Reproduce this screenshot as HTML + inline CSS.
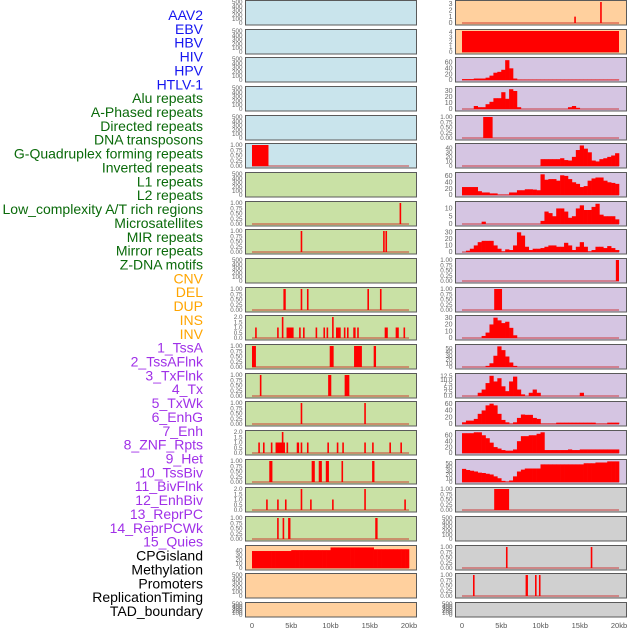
<!DOCTYPE html>
<html><head><meta charset="utf-8">
<style>
html,body{margin:0;padding:0;background:#fff;}
body{width:630px;height:630px;overflow:hidden;position:relative;font-family:"Liberation Sans",sans-serif;}
svg{position:absolute;left:0;top:0;}
</style></head>
<body>
<svg id="chart" width="630" height="630" viewBox="0 0 630 630" xmlns="http://www.w3.org/2000/svg"></svg>
<script>
// ---- labels ----
const trackLabels = ["AAV2","EBV","HBV","HIV","HPV","HTLV-1","Alu repeats","A-Phased repeats","Directed repeats","DNA transposons","G-Quadruplex forming repeats","Inverted repeats","L1 repeats","L2 repeats","Low_complexity A/T rich regions","Microsatellites","MIR repeats","Mirror repeats","Z-DNA motifs","CNV","DEL","DUP","INS","INV","1_TssA","2_TssAFlnk","3_TxFlnk","4_Tx","5_TxWk","6_EnhG","7_Enh","8_ZNF_Rpts","9_Het","10_TssBiv","11_BivFlnk","12_EnhBiv","13_ReprPC","14_ReprPCWk","15_Quies","CPGisland","Methylation","Promoters","ReplicationTiming","TAD_boundary"];
const labelGroups = ["virus","virus","virus","virus","virus","virus","repeat","repeat","repeat","repeat","repeat","repeat","repeat","repeat","repeat","repeat","repeat","repeat","repeat","sv","sv","sv","sv","sv","chrom","chrom","chrom","chrom","chrom","chrom","chrom","chrom","chrom","chrom","chrom","chrom","chrom","chrom","chrom","other","other","other","other","other"];
const xTickKb = [0,5,10,15,20];
const xTickLabels = ["0","5kb","10kb","15kb","20kb"];

// ---- right column histogram data (40 bins of 0.5kb) ----
const hbvBins = [3,3,3,5,5,5,8,15,25,28,35,68,40,5,1,1,1,1,1,1,1,1,1,1,1,1,1,1,1,1,1,1,1,1,1,1,1,1,1,1];
const hivBins = [0,0,0,5,3,3,8,12,18,18,28,17,33,30,3,0,0,0,0,0,0,0,0,0,0,0,0,3,5,2,0,0,0,0,0,0,0,0,0,0];
const htlvBins = [0,0,0,0,0,0,0,0,0,0,0,0,0,0,0,0,0,0,0,0,15,15,15,15,15,17,13,12,20,35,45,38,30,12,10,15,17,20,23,28];
const aluBins = [25,25,25,25,12,8,8,5,5,1,1,1,8,8,15,15,18,18,17,15,65,48,50,50,45,62,60,50,40,35,25,28,45,52,55,55,45,40,38,35];
const r7Bins = [0,0,0,0,0,1.5,0,0,0,0,0,0,0,0,0,0,0,0,0,0,2,8,7,5,10,10,8,4,5,10,12,9,9,11,13,6,5,5,5,3];
const r8Bins = [0,2,5,10,15,17,17,17,10,5,1,4,3,10,30,25,8,3,5,5,6,8,10,10,8,8,14,10,3,8,15,8,1,3,8,8,6,9,6,3];
const r11Bins = [0,0,0,0,0,3,8,20,30,26,22,24,15,4,0,0,0,0,0,0,0,0,0,0,0,0,0,0,0,0,0,0,0,0,0,0,0,0,0,0];
const r12Bins = [0,0,0,0,0,0,3,10,30,55,45,28,12,3,0,0,0,0,0,0,0,0,0,0,0,0,0,0,0,0,0,0,0,0,0,0,0,0,0,0];
const r13Bins = [0,0,0,0,2,4,8,12.5,9,11,6,3,9,12,4,1,0,2,4,2,0,0,0,0,0,0,0,0,0,0,2,0,0,0,0,0,0,0,0,0];
const r14Bins = [5,10,10,15,30,40,55,60,55,30,12,5,1,5,18,28,27,27,18,15,1,1,1,1,4,4,4,4,4,4,4,4,4,4,1,1,1,4,4,4];
const r15Bins = [67,67,67,70,70,60,50,35,20,15,10,8,8,12,40,57,57,60,60,65,70,10,10,10,10,10,10,12,10,10,12,12,12,12,12,12,12,12,12,12];
const r16Bins = [35,32,30,28,25,24,22,20,15,10,3,1,4,15,28,33,36,36,36,36,47,47,47,47,47,47,47,47,47,47,47,50,50,50,52,52,52,55,55,55];
// ---- left column histogram ----
const cpgBins = [38,38,38,38,38,38,38,38,38,38,40,40,40,40,40,40,40,40,40,40,46,46,46,46,46,46,46,46,46,46,46,42,42,42,42,42,42,42,42,42];

// ---- spike data: [startKb, endKb, height] ----
const aav2Spikes = [[14.3,14.5,1],[17.6,17.8,3.3]];
const ebvSpikes = [[0,20,4.2]];
const hpvSpikes = [[2.7,3.9,1]];
const r9Spikes = [[19.6,20,1]];
const r10Spikes = [[4.1,5.1,1]];
const r17Spikes = [[4.1,6.0,1]];
const r19Spikes = [[5.6,5.8,1],[16.4,16.6,1]];
const r20Spikes = [[1.4,1.6,1],[8.1,8.4,1],[9.3,9.5,1],[9.8,10.0,1]];
const l5Spikes = [[0,2.1,1]];
const l7Spikes = [[18.8,19.0,1]];
const l8Spikes = [[6.2,6.4,1],[16.7,16.9,1],[17.0,17.2,1]];
const l10Spikes = [[4.0,4.3,1],[6.2,6.4,1],[7.0,7.2,1],[14.7,14.9,1],[16.3,16.5,1]];
const l11Spikes = [[0.4,0.6,1],[3.2,3.4,1],[3.8,4.0,2],[4.4,5.3,1],[6.0,6.2,1],[6.5,6.7,1],[8.1,8.3,1],[9.1,9.3,1],[9.5,9.7,1],[10.2,10.4,2],[10.7,11.3,1],[11.7,11.9,1],[12.1,12.3,1],[12.9,13.2,1],[13.4,13.6,1],[16.9,17.3,1],[18.3,18.7,1],[19.3,19.5,1]];
const l12Spikes = [[0,0.5,1],[9.9,10.4,1],[13.0,14.0,1],[15.5,15.8,1]];
const l13Spikes = [[1.0,1.2,1],[9.7,10.1,1],[11.8,12.4,1]];
const l14Spikes = [[6.2,6.4,1],[14.3,14.5,1]];
const l15Spikes = [[0.8,1.0,1],[1.4,1.6,1],[2.4,2.6,1],[3.0,4.2,1],[3.8,4.0,2],[4.4,4.6,1],[5.7,6.0,1],[6.2,6.4,1],[7.0,7.2,1],[9.6,9.8,1],[10.8,11.0,1],[11.5,11.7,1],[14.3,14.5,1],[15.3,15.5,1],[17.5,17.7,1],[18.9,19.1,1]];
const l16Spikes = [[2.2,2.6,1],[7.6,8.0,1],[8.5,8.9,1],[9.4,9.8,1],[11.4,11.6,1],[15.3,15.6,1]];
const l17Spikes = [[1.8,2.0,1],[3.2,3.4,1],[4.2,4.4,1],[6.2,6.4,2],[7.4,7.6,1],[10.2,10.4,1],[14.3,14.5,2],[19.4,19.6,1]];
const l18Spikes = [[3.2,3.4,1],[3.9,4.1,1],[4.6,4.9,1],[15.7,16.0,1]];

// ---- y tick sets ----
const ticksEmpty = [0,100,200,300,400,500];
const ticksUnit = [0,0.25,0.5,0.75,1];
const ticksTwo = [0,0.5,1,1.5,2];

const leftPanels = [
 {bg:"#c9e4ec",ticks:ticksEmpty,ymax:500},
 {bg:"#c9e4ec",ticks:ticksEmpty,ymax:500},
 {bg:"#c9e4ec",ticks:ticksEmpty,ymax:500},
 {bg:"#c9e4ec",ticks:ticksEmpty,ymax:500},
 {bg:"#c9e4ec",ticks:ticksEmpty,ymax:500},
 {bg:"#c9e4ec",ticks:ticksUnit,ymax:1,spikes:l5Spikes},
 {bg:"#c9e1a5",ticks:ticksEmpty,ymax:500},
 {bg:"#c9e1a5",ticks:ticksUnit,ymax:1,spikes:l7Spikes},
 {bg:"#c9e1a5",ticks:ticksUnit,ymax:1,spikes:l8Spikes},
 {bg:"#c9e1a5",ticks:ticksEmpty,ymax:500},
 {bg:"#c9e1a5",ticks:ticksUnit,ymax:1,spikes:l10Spikes},
 {bg:"#c9e1a5",ticks:ticksTwo,ymax:2,spikes:l11Spikes},
 {bg:"#c9e1a5",ticks:ticksUnit,ymax:1,spikes:l12Spikes},
 {bg:"#c9e1a5",ticks:ticksUnit,ymax:1,spikes:l13Spikes},
 {bg:"#c9e1a5",ticks:ticksUnit,ymax:1,spikes:l14Spikes},
 {bg:"#c9e1a5",ticks:ticksTwo,ymax:2,spikes:l15Spikes},
 {bg:"#c9e1a5",ticks:ticksUnit,ymax:1,spikes:l16Spikes},
 {bg:"#c9e1a5",ticks:ticksTwo,ymax:2,spikes:l17Spikes},
 {bg:"#c9e1a5",ticks:ticksUnit,ymax:1,spikes:l18Spikes},
 {bg:"#ffd09e",ticks:[0,10,20,30,40],ymax:47,bins:cpgBins},
 {bg:"#ffd09e",ticks:ticksEmpty,ymax:500},
 {bg:"#ffd09e",ticks:ticksEmpty,ymax:500}
];
const rightPanels = [
 {bg:"#ffd09e",ticks:[0,1,2,3],ymax:3.3,spikes:aav2Spikes},
 {bg:"#ffd09e",ticks:[0,1,2,3,4],ymax:4.2,spikes:ebvSpikes},
 {bg:"#d5c5e2",ticks:[0,20,40,60],ymax:72,bins:hbvBins},
 {bg:"#d5c5e2",ticks:[0,10,20,30],ymax:35,bins:hivBins},
 {bg:"#d5c5e2",ticks:ticksUnit,ymax:1,spikes:hpvSpikes},
 {bg:"#d5c5e2",ticks:[0,10,20,30,40],ymax:46,bins:htlvBins},
 {bg:"#d5c5e2",ticks:[0,20,40,60],ymax:66,bins:aluBins},
 {bg:"#d5c5e2",ticks:[0,5,10],ymax:13.5,bins:r7Bins},
 {bg:"#d5c5e2",ticks:[0,10,20,30],ymax:32,bins:r8Bins},
 {bg:"#d5c5e2",ticks:ticksUnit,ymax:1,spikes:r9Spikes},
 {bg:"#d5c5e2",ticks:ticksUnit,ymax:1,spikes:r10Spikes},
 {bg:"#d5c5e2",ticks:[0,10,20,30],ymax:31,bins:r11Bins},
 {bg:"#d5c5e2",ticks:[0,10,20,30,40,50],ymax:56,bins:r12Bins},
 {bg:"#d5c5e2",ticks:[0,2.5,5,7.5,10,12.5],ymax:13,bins:r13Bins},
 {bg:"#d5c5e2",ticks:[0,20,40,60],ymax:62,bins:r14Bins},
 {bg:"#d5c5e2",ticks:[0,20,40,60],ymax:71,bins:r15Bins},
 {bg:"#d5c5e2",ticks:[0,10,20,30,40,50],ymax:56,bins:r16Bins},
 {bg:"#d0d0d0",ticks:ticksUnit,ymax:1,spikes:r17Spikes},
 {bg:"#d0d0d0",ticks:ticksEmpty,ymax:500},
 {bg:"#d0d0d0",ticks:ticksUnit,ymax:1,spikes:r19Spikes},
 {bg:"#d0d0d0",ticks:ticksUnit,ymax:1,spikes:r20Spikes},
 {bg:"#d0d0d0",ticks:ticksEmpty,ymax:500}
];

const NS = "http://www.w3.org/2000/svg";
const svg = document.getElementById("chart");
function mk(tag, attrs, parent){
  const e = document.createElementNS(NS, tag);
  for (const k in attrs) e.setAttribute(k, attrs[k]);
  (parent||svg).appendChild(e);
  return e;
}
const groupColor = {virus:"#1515f0",repeat:"#0a6a0a",sv:"#ffa500",chrom:"#a030e8",other:"#000000"};

// labels
trackLabels.forEach((t,i)=>{
  const el = mk("text",{x:203,y:15+i*13.86+5,"text-anchor":"end","font-size":"14",fill:groupColor[labelGroups[i]],"font-family":"Liberation Sans, sans-serif"});
  el.textContent = t;
  
  
});

const colX = [245.5, 455.5];
const dataX0 = [252, 462];
const PW = 171;
function xScale(col, kb){ return dataX0[col] + kb/20*157; }
function fmt(ticks, v){
  if (ticks[ticks.length-1] === 1) return v.toFixed(2);
  if (ticks.some(t=>t%1!==0)) return v.toFixed(1);
  return String(v);
}

function drawPanel(col, i, p){
  const top = Math.round(i*28.67)+0.5;
  const h = (i===21) ? 14.5 : 24.5;
  const left = colX[col];
  const g = mk("g",{});
  
  
  mk("rect",{x:left,y:top,width:PW,height:h,fill:p.bg,stroke:"#5a5a5a","stroke-width":"1"},g);
  const yb = top+h-2, yt = top+1.5;
  const yS = v => yb - v/p.ymax*(yb-yt);
  const fs = p.ticks.length>4 ? 6.3 : 7;
  p.ticks.forEach(t=>{
    const tx = mk("text",{x:left-3,y:yS(t)+2.2,"text-anchor":"end","font-size":fs,fill:"#666","font-family":"Liberation Sans, sans-serif"},g);
    tx.textContent = fmt(p.ticks,t);
    
    
  });
  const hasData = p.bins || p.spikes;
  if (hasData){
    const bl = mk("line",{x1:xScale(col,0),x2:xScale(col,20),y1:yb,y2:yb,stroke:"rgba(200,30,30,0.55)","stroke-width":"1.5"},g);
    
    
  }
  if (p.bins){
    p.bins.forEach((v,k)=>{
      if (v<=0) return;
      const x1 = xScale(col,k*0.5), x2 = xScale(col,(k+1)*0.5);
      const r = mk("rect",{x:x1,y:yS(v),width:x2-x1+0.3,height:yb-yS(v),fill:"#ff0000"},g);
      
      
    });
  }
  if (p.spikes){
    p.spikes.forEach(s=>{
      const x1 = xScale(col,s[0]), x2 = xScale(col,s[1]);
      const r = mk("rect",{x:x1,y:yS(s[2]),width:Math.max(x2-x1,1.6),height:yb-yS(s[2]),fill:"#ff0000"},g);
      
      
    });
  }
}
leftPanels.forEach((p,i)=>drawPanel(0,i,p));
rightPanels.forEach((p,i)=>drawPanel(1,i,p));

// x ticks
[0,1].forEach(col=>{
  xTickKb.forEach((kb,j)=>{
    const t = mk("text",{x:xScale(col,kb),y:628,"text-anchor":"middle","font-size":"7.5",fill:"#555","font-family":"Liberation Sans, sans-serif"});
    t.textContent = xTickLabels[j];
    
    
  });
});
</script>
</body></html>
